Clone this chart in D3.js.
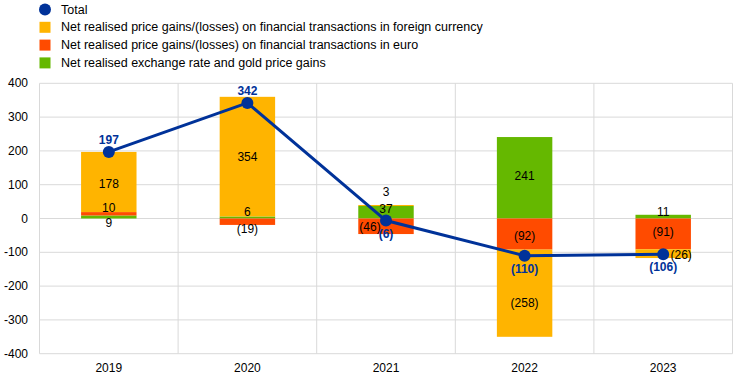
<!DOCTYPE html>
<html>
<head>
<meta charset="utf-8">
<script src="https://cdn.jsdelivr.net/npm/d3@7"></script>
<style>
  body { margin: 0; background: #fff; }
  text { font-family: "Liberation Sans", Arial, sans-serif; }
</style>
</head>
<body>
<svg id="chart" width="744" height="384"></svg>
<script>
// data
const years = ["2019", "2020", "2021", "2022", "2023"];
const foreign = [178, 354, 3, -258, -26];
const euro = [10, -19, -46, -92, -91];
const gold = [9, 6, 37, 241, 11];
const total = [197, 342, -6, -110, -106];
const yTicks = [-400, -300, -200, -100, 0, 100, 200, 300, 400];

const seriesNames = [
    "Net realised price gains/(losses) on financial transactions in foreign currency",
    "Net realised price gains/(losses) on financial transactions in euro",
    "Net realised exchange rate and gold price gains"
];

// label nudges for small segments [dx, dy] (stack order: gold, euro, foreign)
const nudges = {
    gold: [[0, 6], [0, -5], [0, -3], [0, -2], [0, -5]],
    euro: [[0, -6], [0, 7], [-16, 1], [0, 2], [0, -2]],
    foreign: [[0, 2], [0, 0], [0, -13], [0, 10], [18, 1]]
};

const colors = { total: "#003299", foreign: "#FFB400", euro: "#FF4B00", gold: "#65B800" };

const svg = d3.select("#chart");
const margin = { left: 39.5, right: 11.5, top: 83.3, bottom: 30.3 };
const W = 744, H = 384;

const x = d3.scaleBand().domain(years).range([margin.left, W - margin.right]).paddingInner(0).paddingOuter(0);
const y = d3.scaleLinear().domain([-400, 400]).range([H - margin.bottom, margin.top]);
const barW = x.bandwidth() * 0.4;

// grid
const grid = svg.append("g");
grid.selectAll("line.h").data(yTicks).join("line")
    .attr("x1", margin.left).attr("x2", W - margin.right)
    .attr("y1", d => y(d)).attr("y2", d => y(d))
    .attr("stroke", "#d9d9d9").attr("stroke-width", 1);
const bounds = years.map(d => x(d)).concat([W - margin.right]);
grid.selectAll("line.v").data(bounds).join("line")
    .attr("x1", d => d).attr("x2", d => d)
    .attr("y1", y(400)).attr("y2", y(-400))
    .attr("stroke", "#d9d9d9").attr("stroke-width", 1);

// y axis labels
svg.append("g").selectAll("text").data(yTicks).join("text")
    .attr("x", 28).attr("y", d => y(d)).attr("text-anchor", "end")
    .attr("dominant-baseline", "central").attr("font-size", 12).attr("fill", "#000")
    .text(d => d);

// x axis labels
svg.append("g").selectAll("text").data(years).join("text")
    .attr("x", d => x(d) + x.bandwidth() / 2).attr("y", 368)
    .attr("text-anchor", "middle").attr("dominant-baseline", "central")
    .attr("font-size", 12).text(d => d);

// stacked segments, positives and negatives stacked separately
const order = [["gold", gold], ["euro", euro], ["foreign", foreign]];
const segs = [];
years.forEach((yr, i) => {
    let pos = 0, neg = 0;
    order.forEach(([key, arr]) => {
        const v = arr[i];
        let y0, y1;
        if (v >= 0) { y0 = pos; y1 = pos + v; pos = y1; }
        else { y0 = neg; y1 = neg + v; neg = y1; }
        segs.push({ yr, i, key, v, y0, y1 });
    });
});

svg.append("g").selectAll("rect").data(segs).join("rect")
    .attr("x", d => x(d.yr) + (x.bandwidth() - barW) / 2)
    .attr("width", barW)
    .attr("y", d => y(Math.max(d.y0, d.y1)))
    .attr("height", d => Math.abs(y(d.y0) - y(d.y1)))
    .attr("fill", d => colors[d.key]);

const fmt = v => v < 0 ? `(${Math.abs(v)})` : `${v}`;

svg.append("g").selectAll("text").data(segs).join("text")
    .attr("x", d => x(d.yr) + x.bandwidth() / 2 + nudges[d.key][d.i][0])
    .attr("y", d => y((d.y0 + d.y1) / 2) + nudges[d.key][d.i][1])
    .attr("text-anchor", "middle").attr("dominant-baseline", "central")
    .attr("font-size", 12).attr("fill", "#000")
    .text(d => fmt(d.v));

// total line
const cx = (d, i) => x(years[i]) + x.bandwidth() / 2;
const line = d3.line().x((d, i) => cx(d, i)).y(d => y(d));
svg.append("path").datum(total).attr("d", line)
    .attr("fill", "none").attr("stroke", colors.total).attr("stroke-width", 3);
svg.append("g").selectAll("circle").data(total).join("circle")
    .attr("cx", cx).attr("cy", d => y(d)).attr("r", 6).attr("fill", colors.total);
svg.append("g").selectAll("text").data(total).join("text")
    .attr("x", cx).attr("y", d => y(d) + (d >= 0 ? -12 : 13))
    .attr("text-anchor", "middle").attr("dominant-baseline", "central")
    .attr("font-size", 12).attr("font-weight", "bold").attr("fill", colors.total)
    .text(d => fmt(d));

// legend
const legend = svg.append("g");
const legItems = [["Total", "total"]].concat(seriesNames.map((n, i) => [n, ["foreign", "euro", "gold"][i]]));
legItems.forEach(([name, key], i) => {
    const cy = 9.5 + i * 17.8;
    if (key === "total") {
        legend.append("circle").attr("cx", 45).attr("cy", cy).attr("r", 6).attr("fill", colors.total);
    } else {
        legend.append("rect").attr("x", 39.5).attr("y", cy - 5.5).attr("width", 11).attr("height", 11).attr("fill", colors[key]);
    }
    legend.append("text").attr("x", 61).attr("y", cy).attr("dominant-baseline", "central")
        .attr("font-size", 12.5).attr("fill", "#000").text(name);
});
</script>
</body>
</html>
